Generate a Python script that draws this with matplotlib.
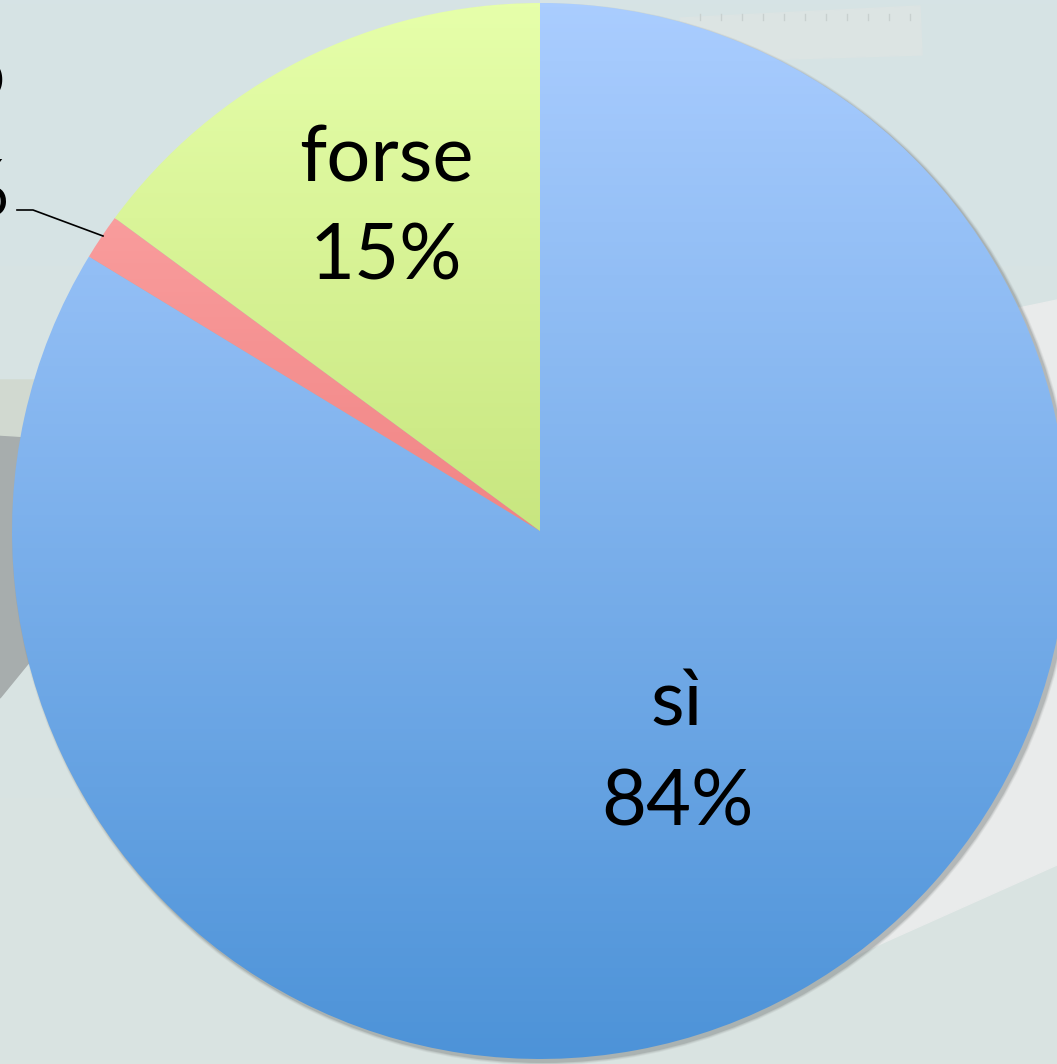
import numpy as np
import matplotlib.pyplot as plt
from matplotlib.patches import Polygon, Circle
from matplotlib.colors import LinearSegmentedColormap

# Daten
kategorien = ['sì', 'no', 'forse']
anteile = [83.7, 1.4, 14.9]
beschriftung = ['84%', '1%', '15%']
farben_oben = ['#aacdff', '#ffadad', '#e6ffaa']
farben_unten = ['#4d93d8', '#e25c5c', '#aacd55']

W, H = 1057, 1064
fig = plt.figure(figsize=(W / 100, H / 100), dpi=100)
ax = fig.add_axes([0, 0, 1, 1])

# Hintergrund (Foto-Andeutung)
bg = np.linspace(0, 1, 256).reshape(-1, 1)
bg_cmap = LinearSegmentedColormap.from_list('bg', ['#d6e3e5', '#dae4e1'])
ax.imshow(bg, cmap=bg_cmap, extent=[0, W, 0, H], aspect='auto', zorder=0)
ax.add_patch(Polygon([(0, H - 435), (80, H - 440), (80, H - 600), (0, H - 698)],
                     closed=True, color='#a7adad', zorder=1))
ax.add_patch(Polygon([(0, H - 380), (80, H - 380), (80, H - 440), (0, H - 435)],
                     closed=True, color='#d1d9d0', zorder=1))
ax.add_patch(Polygon([(900, H - 333), (W, H - 300), (W, H - 865), (800, H - 980)],
                     closed=True, color='#e9ebeb', zorder=1))
# Lineal oben, kaum sichtbar
ax.add_patch(Polygon([(680, H - 18), (920, H - 6), (922, H - 55), (690, H - 62)],
                     closed=True, color='#dce4e3', zorder=1))
for x in np.arange(700, 915, 21):
    ax.plot([x, x], [H - 14, H - 20], color='#c8d0cf', lw=1, zorder=1)

mitte = (540, H - 531)
radius = 528

# Schatten
for i, a in enumerate([0.10, 0.15, 0.25]):
    ax.add_patch(Circle((mitte[0] + 3, mitte[1] - 3), radius + 3 - i, color='#6f7474',
                        alpha=a, zorder=2, lw=0))

wedges, _ = ax.pie(anteile, startangle=90, counterclock=False, center=mitte,
                   radius=radius, frame=True,
                   wedgeprops=dict(linewidth=0, facecolor='none'))

# Farbverlauf je Segment
for w, c1, c2 in zip(wedges, farben_oben, farben_unten):
    cm = LinearSegmentedColormap.from_list('g', [c2, c1])
    im = ax.imshow(np.linspace(0, 1, 256).reshape(-1, 1), cmap=cm, origin='lower',
                   extent=[mitte[0] - radius, mitte[0] + radius,
                           mitte[1] - radius, mitte[1] + radius],
                   aspect='auto', zorder=3)
    im.set_clip_path(w)

schrift = dict(family=['Lato', 'DejaVu Sans'], fontsize=56, color='black',
               ha='center', va='baseline', zorder=5)
ax.text(386, H - 181, 'forse', **schrift)
ax.text(386, H - 279, beschriftung[2], **schrift)
ax.text(677, H - 725, kategorien[0], **schrift)
ax.text(677, H - 826, beschriftung[0], **schrift)

klein = dict(schrift, ha='right')
ax.text(6, H - 100, kategorien[1], **klein)
ax.text(10, H - 215, beschriftung[1], **klein)
ax.plot([17, 33, 103], [H - 210, H - 210, H - 236], color='black', lw=1.2, zorder=5)

ax.set_xlim(0, W)
ax.set_ylim(0, H)
ax.set_aspect('equal')
ax.axis('off')
fig.savefig('out.png', dpi=100)
